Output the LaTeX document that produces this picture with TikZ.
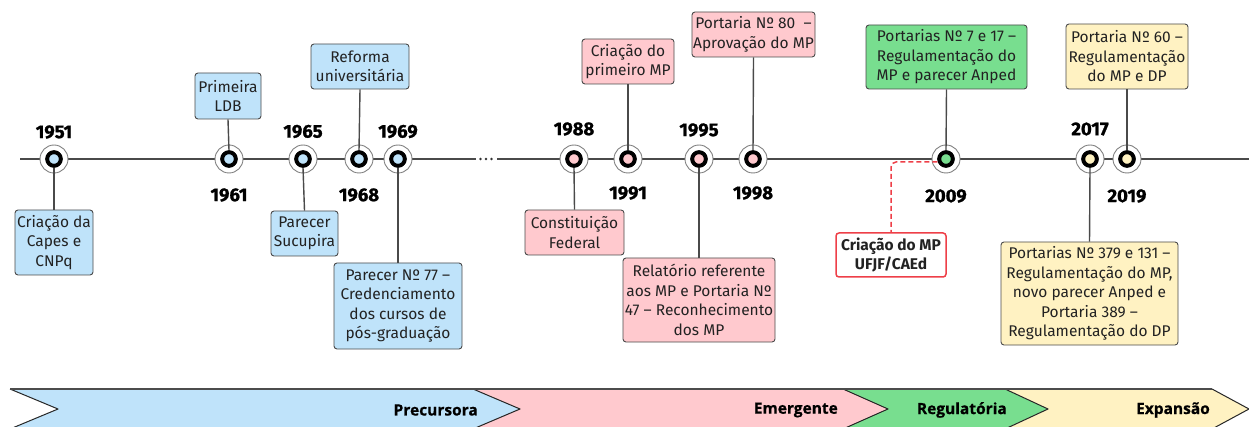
\documentclass[tikz,border=0pt]{standalone}
\usepackage{fontspec}
\setmainfont{Fira Sans}
\newfontfamily\phasefont[BoldFeatures={FakeBold=0.6}]{Open Sans}
\newfontfamily\yearfont[BoldFeatures={FakeBold=1.2}]{Fira Sans}
\definecolor{cblue}{HTML}{BFE3FA}
\definecolor{cpink}{HTML}{FFC9CE}
\definecolor{cgreen}{HTML}{78DE8F}
\definecolor{cyellow}{HTML}{FFF2C2}
\definecolor{cred}{HTML}{EE3F48}
\definecolor{cline}{HTML}{4A4A4A}
\definecolor{ctext}{HTML}{222222}
\tikzset{
  evbox/.style={draw=cline, line width=0.9pt, rounded corners=3pt, align=center,
    inner sep=0pt, text=ctext, font=\fontsize{15.5}{19.5}\selectfont},
  dotnode/.style={circle, draw=black, line width=3.8pt, minimum size=13.5pt, inner sep=0pt},
  ringnode/.style={circle, draw=black!50, fill=white, line width=0.9pt, minimum size=28pt, inner sep=0pt},
  yearlbl/.style={font=\yearfont\fontsize{18.5}{18.5}\selectfont\bfseries, text=black, inner sep=0pt},
  conn/.style={draw=cline, line width=1.4pt},
  phaselbl/.style={font=\phasefont\fontsize{15.5}{15.5}\selectfont\bfseries, text=black, inner sep=0pt, anchor=east},
  phaseedge/.style={draw=black!85, line width=1pt, line join=round}
}
\begin{document}
\begin{tikzpicture}[x=1pt,y=-1pt]
\useasboundingbox (0,0) rectangle (1249,427);
% timeline
\draw[draw=cline, line width=2pt] (20,159) -- (476,159);
\draw[draw=cline, line width=2pt] (497,159) -- (1249,159);
\foreach \xx in {480.5,486,491.5} \fill[black!80] (\xx,159) circle (1.4);
% event boxes
\node[evbox, fill=cblue, minimum width=78pt, minimum height=65pt] (b1951) at (54,242.5) {Criação da\\Capes e\\CNPq};
\node[evbox, fill=cblue, minimum width=66pt, minimum height=46pt] (b1961) at (228,96) {Primeira\\LDB};
\node[evbox, fill=cblue, minimum width=98pt, minimum height=45pt] (b1968) at (360,66.5) {Reforma\\universitária};
\node[evbox, fill=cblue, minimum width=67pt, minimum height=45pt] (b1965) at (304.5,233.5) {Parecer\\Sucupira};
\node[evbox, fill=cblue, minimum width=128pt, minimum height=86pt] (b1969) at (398,306) {Parecer Nº 77 –\\Credenciamento\\dos cursos de\\pós-graduação};
\node[evbox, fill=cpink, minimum width=99pt, minimum height=45pt] (b1988) at (574.5,232.5) {Constituição\\Federal};
\node[evbox, fill=cpink, minimum width=92pt, minimum height=45pt] (b1991) at (628,61.5) {Criação do\\primeiro MP};
\node[evbox, fill=cpink, minimum width=123pt, minimum height=45pt] (b1998) at (753.5,34.5) {Portaria Nº 80 \ –\\Aprovação do MP};
\node[evbox, fill=cpink, minimum width=152pt, minimum height=84pt] (b1995) at (699,300) {Relatório referente\\aos MP e Portaria Nº\\47 – Reconhecimento\\dos MP};
\node[evbox, fill=cgreen, minimum width=161pt, minimum height=64pt] (b2009) at (946.5,57) {Portarias Nº 7 e 17 –\\Regulamentação do\\MP e parecer Anped};
\node[evbox, fill=cyellow, minimum width=122pt, minimum height=65pt] (b2019) at (1127,56.5) {Portaria Nº 60 –\\Regulamentação\\do MP e DP};
\node[evbox, fill=cyellow, minimum width=177pt, minimum height=103pt] (b2017) at (1089.5,293.5) {Portarias Nº 379 e 131 –\\Regulamentação do MP,\\novo parecer Anped e\\Portaria 389 –\\Regulamentação do DP};
\node[evbox, draw=cred, line width=1.5pt, fill=white, minimum width=110pt, minimum height=44pt, font=\fontsize{15.5}{19.5}\selectfont\bfseries] (bufjf) at (891,255) {Criação do MP\\UFJF/CAEd};
% rings
\foreach \yr/\xx in {1951/54,1961/229,1965/303,1968/359,1969/398,1988/574,1991/628,1995/699,1998/753,2009/946,2017/1090,2019/1127}
  \node[ringnode] (r\yr) at (\xx,159) {};
% dots
\foreach \yr/\xx in {1951/54,1961/229,1965/303,1968/359,1969/398}
  \node[dotnode, fill=cblue] (d\yr) at (\xx,159) {};
\foreach \yr/\xx in {1988/574,1991/628,1995/699,1998/753}
  \node[dotnode, fill=cpink] (d\yr) at (\xx,159) {};
\node[dotnode, fill=cgreen] (d2009) at (946,159) {};
\foreach \yr/\xx in {2017/1090,2019/1127}
  \node[dotnode, fill=cyellow] (d\yr) at (\xx,159) {};
% connectors
\foreach \yr in {1951,1965,1969,1988,1995,2017}
  \draw[conn] (d\yr.south) -- (b\yr.north);
\foreach \yr in {1961,1968,1991,1998,2009,2019}
  \draw[conn] (d\yr.north) -- (b\yr.south);
\draw[draw=cred, line width=1.5pt, dash pattern=on 5pt off 3pt, rounded corners=5pt] ([yshift=-3pt]d2009.west) -| (bufjf.north);
% redraw dots over connectors
\foreach \yr/\xx in {1951/54,1961/229,1965/303,1968/359,1969/398}
  \node[dotnode, fill=cblue] at (\xx,159) {};
\foreach \yr/\xx in {1988/574,1991/628,1995/699,1998/753}
  \node[dotnode, fill=cpink] at (\xx,159) {};
\node[dotnode, fill=cgreen] at (946,159) {};
\foreach \yr/\xx in {2017/1090,2019/1127}
  \node[dotnode, fill=cyellow] at (\xx,159) {};
% years
\node[yearlbl] (y1951) at (54,132) {1951};
\node[yearlbl] (y1961) at (229,195) {1961};
\node[yearlbl] (y1965) at (303,131.5) {1965};
\node[yearlbl] (y1968) at (359,195) {1968};
\node[yearlbl] (y1969) at (398,131.5) {1969};
\node[yearlbl] (y1988) at (574,129) {1988};
\node[yearlbl] (y1991) at (628,193) {1991};
\node[yearlbl] (y1995) at (699,130) {1995};
\node[yearlbl] (y1998) at (753,193) {1998};
\node[yearlbl] (y2009) at (946,196) {2009};
\node[yearlbl] (y2017) at (1090,129) {2017};
\node[yearlbl] (y2019) at (1127,196) {2019};
% phase bar
\fill[cblue] (10,389) -- (473,389) -- (520,409) -- (473,429) -- (10,429) -- (58,409) -- cycle;
\fill[cpink] (473,389) -- (843,389) -- (888,409) -- (843,429) -- (473,429) -- (520,409) -- cycle;
\fill[cgreen] (843,389) -- (1005,389) -- (1048,409) -- (1005,429) -- (843,429) -- (888,409) -- cycle;
\fill[cyellow] (1005,389) -- (1212,389) -- (1249,409) -- (1212,429) -- (1005,429) -- (1048,409) -- cycle;
\draw[phaseedge] (10,389) -- (58,409) -- (10,429);
\draw[phaseedge] (473,389) -- (520,409) -- (473,429);
\draw[phaseedge] (843,389) -- (888,409) -- (843,429);
\draw[phaseedge] (1005,389) -- (1048,409) -- (1005,429);
\draw[phaseedge] (1212,389) -- (1249,409) -- (1212,429);
\draw[draw=black!70, line width=1.6pt] (10,389) -- (1212,389);
\node[phaselbl] (pPre) at (478,410) {Precursora};
\node[phaselbl] (pEme) at (838,410) {Emergente};
\node[phaselbl] (pReg) at (1007,410) {Regulatória};
\node[phaselbl] (pExp) at (1210,410) {Expansão};
\end{tikzpicture}
\end{document}
